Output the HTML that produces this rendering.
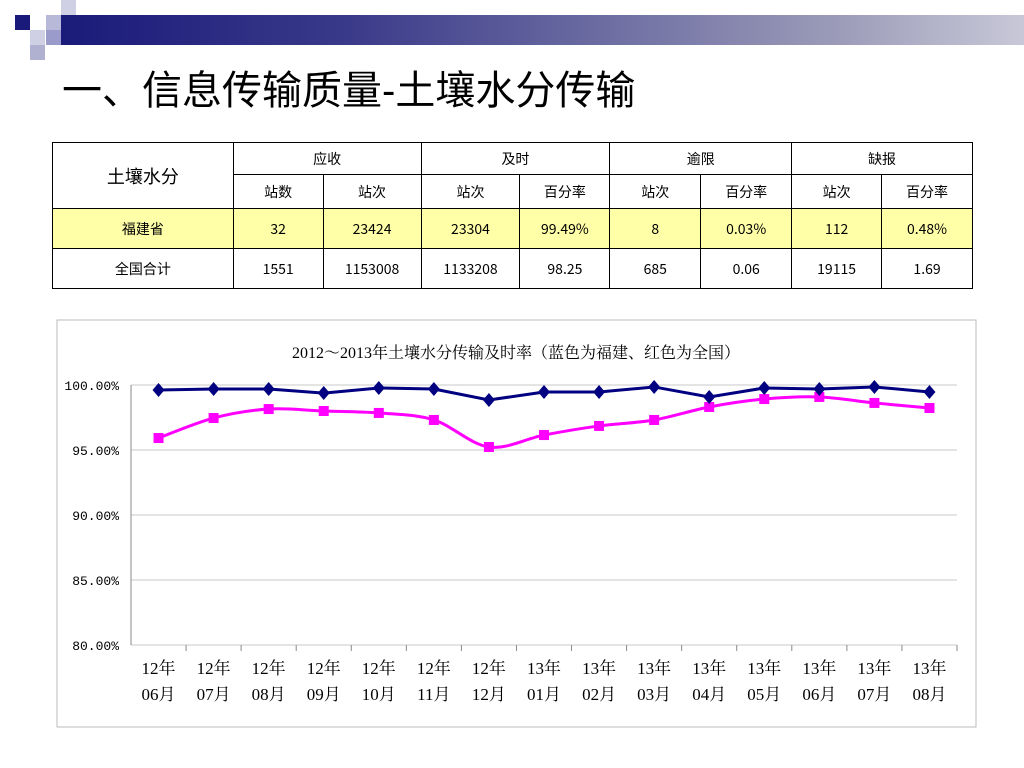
<!DOCTYPE html>
<html><head><meta charset="utf-8"><style>
body{margin:0;width:1024px;height:768px;background:#fff;position:relative;overflow:hidden;font-family:"Liberation Serif","Noto Serif CJK SC",serif;}
.abs{position:absolute}
table{border-collapse:collapse;position:absolute;left:52px;top:142px;width:921px;font-size:14px;font-family:"Noto Sans CJK SC",sans-serif;}
td{border:1px solid #000;text-align:center;padding:0;}
</style></head><body>
<div class="abs" style="left:60px;top:15px;width:964px;height:30px;background:linear-gradient(90deg,#1a1a7a,#3a3a8a 30%,#9a9ab8 80%,#c8c8d8)"></div>
<div class="abs" style="left:15px;top:15px;width:15px;height:15px;background:#1a1a7a"></div>
<div class="abs" style="left:46px;top:15px;width:15px;height:15px;background:#b8b8d8"></div>
<div class="abs" style="left:61px;top:0px;width:15px;height:15px;background:#d0d0e4"></div>
<div class="abs" style="left:46px;top:30px;width:15px;height:15px;background:#9a9acb"></div>
<div class="abs" style="left:30px;top:30px;width:15px;height:15px;background:#d0d0e4"></div>
<div class="abs" style="left:30px;top:45px;width:15px;height:15px;background:#b0b0d0"></div>
<div class="abs" style="left:62px;top:58px;font-size:40px;font-family:'Liberation Sans','Noto Sans CJK SC',sans-serif;font-weight:normal;color:#000">一、信息传输质量-土壤水分传输</div>
<table>
<colgroup><col style="width:181px"><col style="width:90px"><col style="width:98px"><col style="width:99px"><col style="width:90px"><col style="width:91px"><col style="width:91px"><col style="width:90px"><col style="width:91px"></colgroup>
<tr style="height:32px"><td rowspan="2" style="font-size:18px">土壤水分</td><td colspan="2">应收</td><td colspan="2">及时</td><td colspan="2">逾限</td><td colspan="2">缺报</td></tr>
<tr style="height:34px"><td>站数</td><td>站次</td><td>站次</td><td>百分率</td><td>站次</td><td>百分率</td><td>站次</td><td>百分率</td></tr>
<tr style="height:40px;background:#ffffa8"><td>福建省</td><td>32</td><td>23424</td><td>23304</td><td>99.49%</td><td>8</td><td>0.03%</td><td>112</td><td>0.48%</td></tr>
<tr style="height:40px"><td>全国合计</td><td>1551</td><td>1153008</td><td>1133208</td><td>98.25</td><td>685</td><td>0.06</td><td>19115</td><td>1.69</td></tr>
</table>
<svg class="abs" style="left:0;top:0" width="1024" height="768">
<rect x="57" y="320" width="919" height="407" fill="#fff" stroke="#bbb"/>
<text x="516" y="358" font-size="16" text-anchor="middle">2012～2013年土壤水分传输及时率（蓝色为福建、红色为全国）</text>
<g id="axes"></g><g id="series"></g>
</svg>
<script>
const categories=["12年|06月","12年|07月","12年|08月","12年|09月","12年|10月","12年|11月","12年|12月","13年|01月","13年|02月","13年|03月","13年|04月","13年|05月","13年|06月","13年|07月","13年|08月"];
const fujian=[99.62,99.69,99.69,99.38,99.77,99.69,98.85,99.46,99.46,99.85,99.08,99.77,99.69,99.85,99.46];
const national=[95.92,97.46,98.15,98.0,97.85,97.31,95.23,96.15,96.85,97.31,98.31,98.92,99.08,98.62,98.23];
const yTicks=[80,85,90,95,100];
const yLabels=["80.00%","85.00%","90.00%","95.00%","100.00%"];
const NS="http://www.w3.org/2000/svg";
const x0=131,x1=957,yTop=385,yBot=645,yMin=80,yMax=100;
const step=(x1-x0)/categories.length;
const xs=i=>x0+step*(i+0.5);
const ys=v=>yBot-(v-yMin)/(yMax-yMin)*(yBot-yTop);
const ax=document.getElementById('axes'),se=document.getElementById('series');
function mk(t,a,p){const e=document.createElementNS(NS,t);for(const k in a)e.setAttribute(k,a[k]);p.appendChild(e);return e;}
yTicks.forEach((v,i)=>{
 const g=mk('line',{x1:x0,x2:x1,y1:ys(v),y2:ys(v),stroke:'#c8c8c8'},ax);
 
 
 const t=mk('text',{x:x0-12,y:ys(v)+5,'font-size':13,'text-anchor':'end','font-family':'Liberation Mono, monospace'},ax);t.textContent=yLabels[i];
 
 
});
const yl=mk('line',{x1:x0,x2:x0,y1:yTop,y2:yBot,stroke:'#888'},ax);


categories.forEach((c,i)=>{
 const tk=mk('line',{x1:x0+step*(i+1),x2:x0+step*(i+1),y1:yBot,y2:yBot+6,stroke:'#888'},ax);
 
 
 const [a,b]=c.split('|');
 const t=mk('text',{x:xs(i),y:674,'font-size':17,'text-anchor':'middle'},ax);
 
 
 const s1=mk('tspan',{x:xs(i),dy:0},t);s1.textContent=a;
 const s2=mk('tspan',{x:xs(i),dy:26},t);s2.textContent=b;
});
function smooth(vals){let d='M'+xs(0)+','+ys(vals[0]);for(let i=0;i<vals.length-1;i++){const p0=[xs(Math.max(i-1,0)),ys(vals[Math.max(i-1,0)])],p1=[xs(i),ys(vals[i])],p2=[xs(i+1),ys(vals[i+1])],p3=[xs(Math.min(i+2,vals.length-1)),ys(vals[Math.min(i+2,vals.length-1)])];
 const c1=[p1[0]+(p2[0]-p0[0])/6,p1[1]+(p2[1]-p0[1])/6],c2=[p2[0]-(p3[0]-p1[0])/6,p2[1]-(p3[1]-p1[1])/6];d+=` C${c1} ${c2} ${p2}`;}return d;}
const pl=mk('path',{d:smooth(national),fill:'none',stroke:'#ff00ff','stroke-width':3},se);


national.forEach((v,i)=>{const r=mk('rect',{x:xs(i)-5,y:ys(v)-5,width:10,height:10,fill:'#ff00ff'},se);
 
 });
const bl=mk('polyline',{points:fujian.map((v,i)=>xs(i)+','+ys(v)).join(' '),fill:'none',stroke:'#000080','stroke-width':3},se);


fujian.forEach((v,i)=>{const x=xs(i),y=ys(v);const p=mk('polygon',{points:`${x},${y-7} ${x+6},${y} ${x},${y+7} ${x-6},${y}`,fill:'#000080'},se);
 
 });
</script>
</body></html>
